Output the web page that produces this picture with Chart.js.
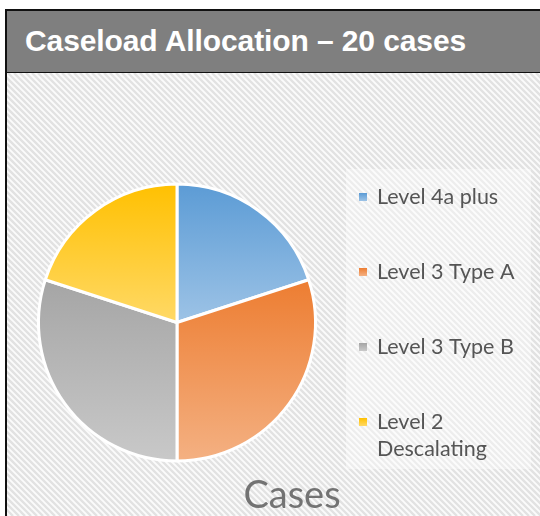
<!DOCTYPE html>
<html>
<head>
<meta charset="utf-8">
<script src="https://cdn.jsdelivr.net/npm/chart.js@4.4.1/dist/chart.umd.min.js"></script>
<style>
  html, body { margin: 0; padding: 0; background: #fff; width: 540px; height: 516px; overflow: hidden; }
  #header {
    position: absolute; left: 5px; top: 9px; width: 545px; height: 61px;
    background: #7f7f7f; border: 2px solid #111; box-sizing: content-box;
  }
  #header h1 {
    margin: 0; position: absolute; left: 18px; top: 13px;
    font: bold 30px "Liberation Sans", Arial, sans-serif; color: #fff; white-space: nowrap;
    letter-spacing: -0.1px;
  }
  #body {
    position: absolute; left: 5px; top: 72px; width: 540px; height: 444px;
    border-left: 2px solid #111;
  }
  #chart { position: absolute; left: 7px; top: 73px; }
</style>
</head>
<body>
<div id="header"><h1>Caseload Allocation – 20 cases</h1></div>
<div id="body"></div>
<canvas id="chart" width="533" height="443"></canvas>
<script>
// Chart data
const categories = ['Level 4a plus', 'Level 3 Type A', 'Level 3 Type B', ['Level 2', 'Descalating']];
const cases = [4, 6, 6, 4];
const topColors = ['#5b9bd5', '#ed7d31', '#a5a5a5', '#ffc000'];
const bottomColors = ['#9dc3e6', '#f4b183', '#c9c9c9', '#ffd966'];
const chartTitle = 'Cases';

// vertical gradient per slice, from the slice's top to its bottom
function sliceGradient(context) {
  const chart = context.chart;
  const i = context.dataIndex;
  const area = chart.chartArea;
  if (!area) return topColors[i];
  const cx = (area.left + area.right) / 2;
  const cy = (area.top + area.bottom) / 2;
  const r = Math.min(area.right - area.left, area.bottom - area.top) / 2;
  const values = chart.data.datasets[0].data;
  const total = values.reduce((a, b) => a + b, 0);
  let before = 0;
  for (let k = 0; k < i; k++) before += values[k];
  const a0 = -Math.PI / 2 + before / total * Math.PI * 2;
  const a1 = a0 + values[i] / total * Math.PI * 2;
  const ys = [cy, cy + r * Math.sin(a0), cy + r * Math.sin(a1)];
  if (a0 <= -Math.PI / 2 + 1e-6 || a1 >= 3 * Math.PI / 2 - 1e-6) ys.push(cy - r);
  if (a0 <= Math.PI / 2 && a1 >= Math.PI / 2) ys.push(cy + r);
  const g = chart.ctx.createLinearGradient(cx, Math.min(...ys), cx, Math.max(...ys));
  g.addColorStop(0, topColors[i]);
  g.addColorStop(1, bottomColors[i]);
  return g;
}

// hatched background + legend panel
const backgroundPlugin = {
  id: 'hatch',
  beforeDraw(chart) {
    const ctx = chart.ctx;
    const w = chart.width, h = chart.height;
    ctx.save();
    ctx.fillStyle = '#fbfbfb';
    ctx.fillRect(0, 0, w, h);
    ctx.strokeStyle = '#e2e2e2';
    ctx.lineWidth = 2.4;
    ctx.beginPath();
    for (let k = -h; k < w + h; k += 6) {
      ctx.moveTo(k, 0);
      ctx.lineTo(k + h, h);
    }
    ctx.stroke();
    ctx.fillStyle = 'rgba(255,255,255,0.4)';
    ctx.fillRect(339, 96, 185, 300);
    ctx.restore();
  }
};

// legend on the right and title below
const legendPlugin = {
  id: 'sideLegend',
  afterDraw(chart) {
    const ctx = chart.ctx;
    const labels = chart.data.labels;
    ctx.save();
    ctx.font = '21.5px Lato, "Open Sans", sans-serif';
    ctx.textBaseline = 'middle';
    ctx.textAlign = 'left';
    labels.forEach((label, i) => {
      const y = 124 + i * 75;
      const g = ctx.createLinearGradient(0, y - 4, 0, y + 4);
      g.addColorStop(0, topColors[i]);
      g.addColorStop(1, bottomColors[i]);
      ctx.fillStyle = g;
      ctx.fillRect(352, y - 4, 8, 8);
      ctx.fillStyle = '#555555';
      const lines = Array.isArray(label) ? label : [label];
      lines.forEach((line, j) => ctx.fillText(line, 370, y + j * 27));
    });
    ctx.font = '38px Lato, "Open Sans", sans-serif';
    ctx.fillStyle = '#737373';
    ctx.textAlign = 'center';
    ctx.textBaseline = 'alphabetic';
    ctx.fillText(chartTitle, 285, 435);
    ctx.restore();
  }
};

new Chart(document.getElementById('chart'), {
  type: 'pie',
  data: {
    labels: categories,
    datasets: [{
      data: cases,
      backgroundColor: sliceGradient,
      borderColor: '#ffffff',
      borderWidth: 3
    }]
  },
  options: {
    responsive: false,
    animation: false,
    layout: {
      padding: { left: 30, top: 109, right: 223, bottom: 53 }
    },
    plugins: {
      legend: { display: false },
      tooltip: { enabled: false }
    }
  },
  plugins: [backgroundPlugin, legendPlugin]
});
</script>
</body>
</html>
